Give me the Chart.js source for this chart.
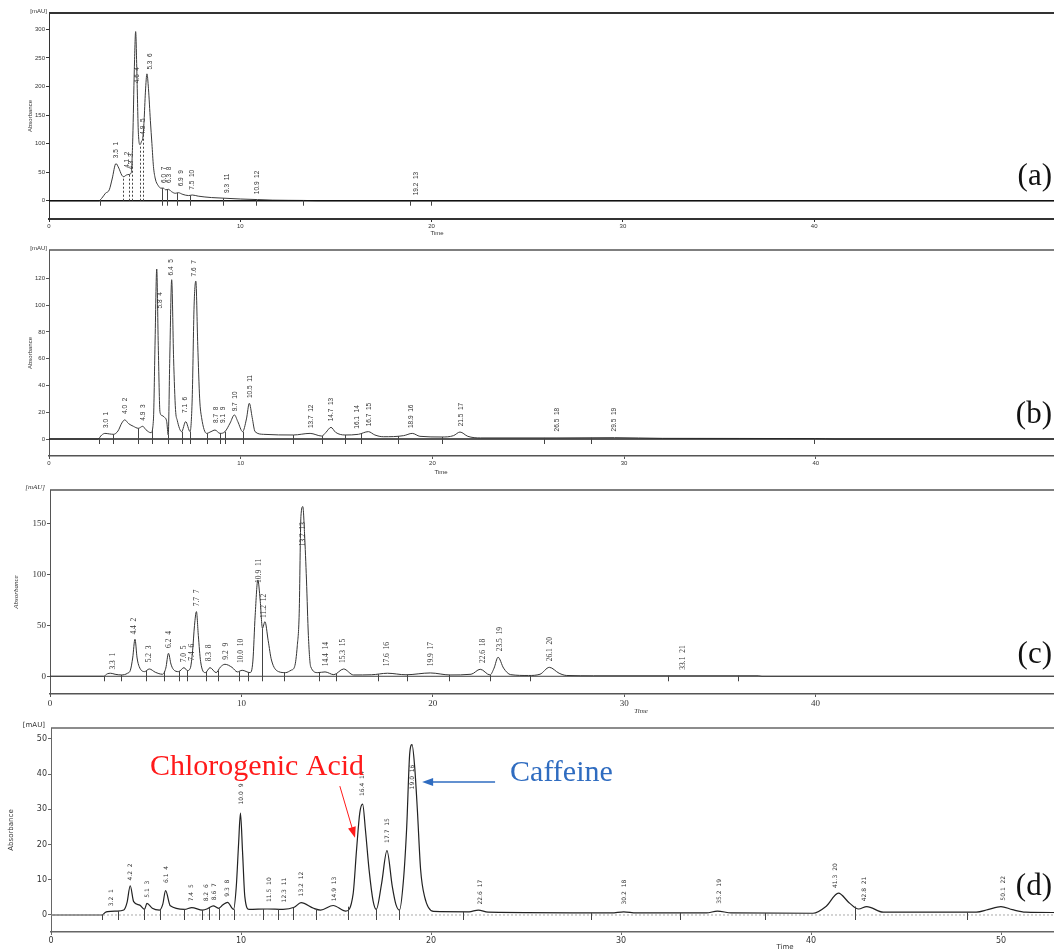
<!DOCTYPE html>
<html>
<head>
<meta charset="utf-8">
<title>HPLC chromatograms</title>
<script src="https://cdn.jsdelivr.net/npm/chart.js@4.4.1/dist/chart.umd.min.js"></script>
<style>
  body { margin: 0; background: #fff; width: 1054px; height: 950px; overflow: hidden; position: relative; }
  .panel { position: absolute; left: 0; width: 1060px; }
</style>
</head>
<body>
<div class="panel" style="top:0;height:240px"><canvas id="chart-a"></canvas></div>
<div class="panel" style="top:240px;height:236px"><canvas id="chart-b"></canvas></div>
<div class="panel" style="top:476px;height:238px"><canvas id="chart-c"></canvas></div>
<div class="panel" style="top:714px;height:236px"><canvas id="chart-d"></canvas></div>
<script>
// ---- panel (a) ----
const aTime = [0, 2.6, 2.75, 2.95, 3.15, 3.3, 3.5, 3.65, 3.8, 3.9, 4.05, 4.18, 4.3, 4.38, 4.46, 4.53, 4.6, 4.67, 4.76, 4.84, 4.9, 4.97, 5.04, 5.12, 5.2, 5.3, 5.38, 5.46, 5.56, 5.7, 5.85, 5.98, 6.1, 6.24, 6.4, 6.6, 6.76, 7.0, 7.3, 7.49, 7.8, 8.5, 9.1, 10, 10.9, 11.7, 13.3, 14, 53];
const aAbs  = [0, 0, 4, 13, 19, 38, 65, 57, 45, 42, 45, 46, 49, 110, 230, 296, 215, 120, 98, 104, 109, 140, 190, 222, 196, 140, 100, 60, 38, 27, 22, 22, 19, 20, 16, 13, 14, 11, 9, 10, 8, 5.5, 4.5, 3, 2, 1, 0.5, 0, 0];
const aPeakRT = [3.5, 4.1, 4.3, 4.6, 4.9, 5.3, 6.0, 6.3, 6.9, 7.5, 9.3, 10.9, 19.2];
const aLabelLevel = [71, 54, 51, 202, 112, 226, 27.5, 27.5, 21.7, 15.8, 10, 8, 6];
const aMarks = [2.67, 5.89, 6.18, 6.71, 7.37, 9.11, 10.8, 13.3, 18.86, 19.95];
const aDrops = [3.88, 4.2, 4.32, 4.76, 4.93];
const aYTicks = [0, 50, 100, 150, 200, 250, 300];
const aXTicks = [0, 10, 20, 30, 40];

// ---- panel (b) ----
const bTime = [0, 2.55, 2.75, 2.92, 3.15, 3.36, 3.6, 3.8, 3.95, 4.15, 4.4, 4.66, 4.89, 5.05, 5.32, 5.45, 5.53, 5.62, 5.7, 5.79, 5.9, 6.0, 6.14, 6.22, 6.3, 6.4, 6.5, 6.6, 6.69, 6.92, 7.13, 7.36, 7.47, 7.57, 7.66, 7.76, 7.86, 7.96, 8.22, 8.45, 8.66, 8.92, 9.18, 9.45, 9.67, 9.85, 10.1, 10.3, 10.45, 10.6, 10.75, 11.18, 12.75, 13.62, 14.23, 14.45, 14.71, 14.95, 15.44, 16.14, 16.66, 17.0, 17.44, 18.5, 18.95, 19.35, 20.5, 21.1, 21.44, 21.85, 22.5, 26.5, 29.5, 32, 40, 41, 53];
const bAbs  = [0, 0, 3, 4.2, 3.8, 3.5, 6, 12, 14.3, 11.5, 9.5, 8, 9.5, 7, 4.7, 15, 70, 127, 70, 20, 17.5, 16.5, 13, 3, 60, 119, 60, 22, 14, 5.5, 13, 5.5, 30, 100, 118, 70, 30, 16, 4.2, 5.5, 6.7, 4.2, 5.5, 12, 18, 13, 5.5, 15, 26.7, 16, 5.5, 3.5, 3, 4.2, 2.2, 5, 8.7, 5, 3, 3.5, 5.5, 3, 1.7, 2.5, 4.2, 2, 1.5, 2.5, 5.2, 2, 0.8, 0.8, 1, 0.5, 0.3, 0, 0];
const bPeakRT = [3.0, 4.0, 4.9, 5.8, 6.4, 7.1, 7.6, 8.7, 9.1, 9.7, 10.5, 13.7, 14.7, 16.1, 16.7, 18.9, 21.5, 26.5, 29.5];
const bLabelLevel = [6.7, 17.2, 12.2, 96, 120.7, 17.9, 120, 10.5, 10.5, 19.2, 29.1, 6.7, 11.7, 6.2, 8, 6.7, 8, 4.2, 4.2];
const bMarks = [2.6, 3.36, 4.66, 5.36, 6.22, 6.92, 7.36, 8.24, 8.92, 9.18, 10.1, 12.75, 14.23, 15.44, 16.3, 18.2, 20.5, 25.8, 28.3, 39.9];
const bYTicks = [0, 20, 40, 60, 80, 100, 120];
const bXTicks = [0, 10, 20, 30, 40];

// ---- panel (c) ----
const cTime = [0, 2.8, 3.0, 3.17, 3.4, 3.73, 4.05, 4.2, 4.32, 4.44, 4.55, 4.66, 4.94, 5.19, 5.5, 5.88, 6.05, 6.19, 6.32, 6.44, 6.72, 7.0, 7.18, 7.33, 7.45, 7.55, 7.65, 7.75, 7.87, 8.12, 8.36, 8.68, 8.9, 9.14, 9.51, 9.79, 10.04, 10.45, 10.6, 10.72, 10.86, 10.98, 11.1, 11.23, 11.4, 11.57, 11.94, 12.31, 12.6, 12.78, 12.92, 13.02, 13.11, 13.21, 13.3, 13.4, 13.5, 13.62, 13.99, 14.37, 14.83, 15.34, 15.86, 16.8, 17.63, 18.6, 19.87, 20.9, 22.0, 22.48, 22.99, 23.2, 23.41, 23.7, 24.07, 25.0, 25.6, 26.09, 26.6, 27.0, 28.4, 37.0, 37.2, 53];
const cAbs  = [0, 0, 2.5, 3, 2, 1.3, 3, 6, 18, 36.4, 18, 9.5, 4.6, 7.2, 4, 2, 8, 22.6, 12, 6.9, 4.6, 8.5, 5.6, 7.9, 25, 50, 63.6, 40, 14.4, 3.6, 8.5, 3.6, 9, 11.8, 8.8, 4.3, 5.9, 3.6, 15, 60, 94.7, 75, 47.2, 53.7, 35, 16, 4.6, 3.6, 6, 9.5, 30, 62, 157, 166.8, 140, 94.7, 40, 9.5, 3.6, 4.3, 1.6, 7.2, 1.3, 1.5, 3, 1.5, 3.3, 1.3, 2, 6.9, 1.3, 8, 18.7, 8, 1.6, 0.8, 2, 8.8, 3, 0.8, 0.5, 0.5, 0, 0];
const cPeakRT = [3.3, 4.4, 5.2, 6.2, 7.0, 7.4, 7.7, 8.3, 9.2, 10.0, 10.9, 11.2, 13.2, 14.4, 15.3, 17.6, 19.9, 22.6, 23.5, 26.1, 33.1];
const cLabelLevel = [4.6, 39, 11.8, 25.9, 11.8, 13.4, 66.8, 12.8, 14.4, 11.1, 89.8, 55.4, 125.8, 7.9, 11.1, 7.9, 7.9, 11.1, 22.6, 12.8, 4.5];
const cMarks = [2.8, 3.69, 5.0, 5.97, 6.75, 7.18, 8.17, 8.77, 9.85, 10.35, 11.1, 12.22, 14.08, 14.93, 17.13, 18.66, 20.85, 22.99, 25.06, 32.3, 35.95];
const cYTicks = [0, 50, 100, 150];
const cXTicks = [0, 10, 20, 30, 40];

// ---- panel (d) ----
const dTime = [0, 2.7, 2.85, 2.98, 3.45, 3.83, 4.0, 4.17, 4.35, 4.67, 4.92, 5.05, 5.33, 5.71, 5.88, 6.03, 6.28, 7.03, 7.41, 7.97, 8.25, 8.54, 8.82, 9.05, 9.29, 9.61, 9.75, 9.87, 9.97, 10.08, 10.2, 10.42, 11.37, 12.21, 12.8, 13.16, 13.82, 14.19, 14.85, 15.51, 15.9, 16.08, 16.25, 16.4, 16.55, 16.74, 16.95, 17.12, 17.4, 17.68, 17.96, 18.15, 18.34, 18.55, 18.72, 18.88, 19.0, 19.14, 19.28, 19.45, 19.66, 20.13, 22.0, 22.49, 23.0, 29.5, 30.14, 30.8, 34.5, 35.07, 35.8, 40.1, 40.8, 41.44, 42.0, 42.5, 42.93, 43.8, 48.7, 49.3, 49.99, 50.6, 51.3, 53];
const dAbs  = [0, 0, 0.7, 0.95, 1.1, 1.4, 3.5, 8.3, 3.8, 2.8, 1.6, 3.3, 1.9, 1.4, 3, 6.9, 2.6, 1.6, 2.1, 1.4, 1.8, 2.6, 1.9, 2.9, 3.6, 1.6, 8, 20, 28.9, 18, 5.2, 1.6, 1.7, 1.6, 2.2, 3.5, 1.9, 1.4, 2.7, 1.1, 6, 18.5, 29, 31.5, 24, 12.8, 4, 1.6, 9, 18.3, 8.1, 3, 1.4, 10, 25, 46, 48.4, 42, 29.9, 13, 5.2, 1.0, 0.9, 1.4, 0.8, 0.6, 0.9, 0.6, 0.6, 1.1, 0.6, 0.5, 2.5, 6.2, 3.5, 1.7, 2.4, 0.8, 0.8, 1.5, 2.4, 1.5, 0.8, 0.7];
const dPeakRT = [3.2, 4.2, 5.1, 6.1, 7.4, 8.2, 8.6, 9.3, 10.0, 11.5, 12.3, 13.2, 14.9, 16.4, 17.7, 19.0, 22.6, 30.2, 35.2, 41.3, 42.8, 50.1];
const dLabelLevel = [1.9, 9.2, 4.3, 8.5, 3.3, 3.3, 3.6, 4.6, 30.8, 3.1, 3, 4.7, 3.3, 33.2, 19.9, 35.1, 2.4, 2.4, 2.6, 7.1, 3.3, 3.5];
const dMarks = [2.7, 3.5, 4.92, 5.71, 7.0, 7.94, 8.31, 8.82, 9.61, 11.18, 11.97, 12.72, 13.97, 15.61, 17.12, 18.34, 21.7, 28.4, 33.1, 37.6, 42.3, 48.2];
const dYTicks = [0, 10, 20, 30, 40, 50];
const dXTicks = [0, 10, 20, 30, 40, 50];
const dNotes = ['Chlorogenic Acid', 'Caffeine'];

function traceAt(ts, vs, t) {
  for (let i = 1; i < ts.length; i++) {
    if (t <= ts[i]) {
      const f = (t - ts[i - 1]) / (ts[i] - ts[i - 1]);
      return vs[i - 1] + f * (vs[i] - vs[i - 1]);
    }
  }
  return 0;
}

function decor(p) {
  return {
    id: 'decor' + p.letter,
    afterDatasetsDraw(chart) {
      const { ctx, chartArea: ca, scales: { x, y } } = chart;
      const y0 = y.getPixelForValue(0);
      const seg = (x1, y1, x2, y2) => { ctx.beginPath(); ctx.moveTo(x1, y1); ctx.lineTo(x2, y2); ctx.stroke(); };
      ctx.save();
      // top frame + zero line
      ctx.strokeStyle = p.frameColor; ctx.lineWidth = p.frameWidth;
      seg(ca.left, ca.top, ca.right, ca.top);
      ctx.strokeStyle = p.baseColor; ctx.lineWidth = p.baseWidth; ctx.setLineDash(p.baseDash);
      seg(ca.left, y0, ca.right, y0);
      ctx.setLineDash([]);
      // integration marks
      ctx.strokeStyle = '#444'; ctx.lineWidth = 1;
      p.marks.forEach(t => {
        const px = Math.round(x.getPixelForValue(t)) + 0.5;
        seg(px, y0 + 5, px, Math.min(y0, y.getPixelForValue(traceAt(p.time, p.abs, t))));
      });
      ctx.setLineDash([2, 2]);
      (p.drops || []).forEach(t => {
        const px = Math.round(x.getPixelForValue(t)) + 0.5;
        seg(px, y0, px, y.getPixelForValue(traceAt(p.time, p.abs, t)));
      });
      ctx.setLineDash([]);
      // peak labels
      ctx.fillStyle = '#333'; ctx.font = p.labelFont;
      ctx.textAlign = 'left'; ctx.textBaseline = 'middle';
      p.peakRT.forEach((rt, i) => {
        ctx.save();
        ctx.translate(x.getPixelForValue(rt), y.getPixelForValue(p.labelLevel[i]) - 2);
        ctx.rotate(-Math.PI / 2);
        ctx.fillText(rt.toFixed(1) + '  ' + (i + 1), 0, 0);
        ctx.restore();
      });
      // axis texts
      ctx.font = p.axisFont;
      ctx.textAlign = 'right'; ctx.textBaseline = 'bottom';
      ctx.fillText('[mAU]', ca.left - p.unitGap, ca.top + 1);
      ctx.save();
      ctx.translate(ca.left - p.absGap, (ca.top + ca.bottom) / 2);
      ctx.rotate(-Math.PI / 2);
      ctx.textAlign = 'center'; ctx.textBaseline = 'middle';
      ctx.fillText('Absorbance', 0, 0);
      ctx.restore();
      ctx.textAlign = 'center'; ctx.textBaseline = 'middle';
      ctx.fillText('Time', p.timeX, ca.bottom + p.timeDY);
      // panel letter
      ctx.fillStyle = '#111'; ctx.font = '31px "Liberation Serif"';
      ctx.textAlign = 'right'; ctx.textBaseline = 'alphabetic';
      ctx.fillText('(' + p.letter + ')', 1052, y0 - p.letterLift);
      // annotations
      (p.notes || []).forEach(n => {
        ctx.fillStyle = n.color; ctx.strokeStyle = n.color; ctx.lineWidth = n.width;
        ctx.font = '30px "Liberation Serif"'; ctx.textAlign = 'left'; ctx.textBaseline = 'alphabetic';
        ctx.fillText(n.text, x.getPixelForValue(n.tx), y.getPixelForValue(n.ty));
        const x1 = x.getPixelForValue(n.a[0]), y1 = y.getPixelForValue(n.a[1]);
        const x2 = x.getPixelForValue(n.a[2]), y2 = y.getPixelForValue(n.a[3]);
        const ang = Math.atan2(y2 - y1, x2 - x1);
        seg(x1, y1, x2 - 8 * Math.cos(ang), y2 - 8 * Math.sin(ang));
        ctx.beginPath();
        ctx.moveTo(x2, y2);
        ctx.lineTo(x2 - 11 * Math.cos(ang) + 4 * Math.sin(ang), y2 - 11 * Math.sin(ang) - 4 * Math.cos(ang));
        ctx.lineTo(x2 - 11 * Math.cos(ang) - 4 * Math.sin(ang), y2 - 11 * Math.sin(ang) + 4 * Math.cos(ang));
        ctx.closePath(); ctx.fill();
      });
      ctx.restore();
    }
  };
}

function drawChrom(canvasId, p) {
  const pts = p.time.map((t, i) => ({ x: t, y: p.abs[i] }));
  return new Chart(document.getElementById(canvasId), {
    type: 'line',
    data: { datasets: [{ data: pts, borderColor: p.lineColor, borderWidth: p.lineWidth, pointRadius: 0, cubicInterpolationMode: 'monotone', fill: false }] },
    options: {
      responsive: true, maintainAspectRatio: false, animation: false,
      layout: { padding: { top: p.padTop, left: 0, right: 0, bottom: 0 } },
      plugins: { legend: { display: false }, tooltip: { enabled: false } },
      scales: {
        x: {
          type: 'linear', min: 0, max: p.xMax,
          afterBuildTicks: s => { s.ticks = p.xTicks.map(v => ({ value: v })); },
          afterFit: s => { s.height = p.xAxisH; },
          grid: { drawOnChartArea: false, tickLength: 3, color: p.frameColor },
          border: { color: p.frameColor, width: p.frameWidth },
          ticks: { font: p.tickFont, color: '#333', padding: 1, maxRotation: 0, autoSkip: false }
        },
        y: {
          min: p.yMin, max: p.yMax,
          afterBuildTicks: s => { s.ticks = p.yTicks.map(v => ({ value: v })); },
          afterFit: s => { s.width = p.yAxisW; },
          grid: { drawOnChartArea: false, tickLength: 3, color: p.frameColor },
          border: { color: p.frameColor, width: 1 },
          ticks: { font: p.tickFont, color: '#333', padding: 1 }
        }
      }
    },
    plugins: [decor(p)]
  });
}

drawChrom('chart-a', {
  letter: 'a', time: aTime, abs: aAbs, peakRT: aPeakRT, labelLevel: aLabelLevel, marks: aMarks, drops: aDrops,
  xTicks: aXTicks, yTicks: aYTicks, xMax: 52.85, yMin: -32, yMax: 328.5,
  padTop: 13, yAxisW: 49, xAxisH: 21,
  lineColor: '#3a3a3a', lineWidth: 1, frameColor: '#333', frameWidth: 2,
  baseColor: '#111', baseWidth: 1.5, baseDash: [],
  tickFont: { family: 'Liberation Sans', size: 6 }, labelFont: '6.5px "Liberation Sans"', axisFont: '6px "Liberation Sans"',
  unitGap: 2, absGap: 19, timeX: 437, timeDY: 14, letterLift: 16
});

drawChrom('chart-b', {
  letter: 'b', time: bTime, abs: bAbs, peakRT: bPeakRT, labelLevel: bLabelLevel, marks: bMarks,
  xTicks: bXTicks, yTicks: bYTicks, xMax: 52.74, yMin: -12.7, yMax: 141.2,
  padTop: 10, yAxisW: 49, xAxisH: 20,
  lineColor: '#3a3a3a', lineWidth: 1, frameColor: '#555', frameWidth: 1.5,
  baseColor: '#222', baseWidth: 1.3, baseDash: [],
  tickFont: { family: 'Liberation Sans', size: 6 }, labelFont: '6.5px "Liberation Sans"', axisFont: '6px "Liberation Sans"',
  unitGap: 2, absGap: 19, timeX: 441, timeDY: 16, letterLift: 16
});

drawChrom('chart-c', {
  letter: 'c', time: cTime, abs: cAbs, peakRT: cPeakRT, labelLevel: cLabelLevel, marks: cMarks,
  xTicks: cXTicks, yTicks: cYTicks, xMax: 52.77, yMin: -17.4, yMax: 183.1,
  padTop: 14, yAxisW: 50, xAxisH: 20,
  lineColor: '#333', lineWidth: 1, frameColor: '#555', frameWidth: 1.5,
  baseColor: '#444', baseWidth: 1, baseDash: [],
  tickFont: { family: 'Liberation Serif', size: 9 }, labelFont: '7.5px "Liberation Serif"', axisFont: 'italic 7px "Liberation Serif"',
  unitGap: 5, absGap: 34, timeX: 641, timeDY: 17, letterLift: 13
});

drawChrom('chart-d', {
  letter: 'd', time: dTime, abs: dAbs, peakRT: dPeakRT, labelLevel: dLabelLevel, marks: dMarks,
  xTicks: dXTicks, yTicks: dYTicks, xMax: 53.1, yMin: -4.83, yMax: 53.1,
  padTop: 14, yAxisW: 51, xAxisH: 18,
  lineColor: '#222', lineWidth: 1.2, frameColor: '#666', frameWidth: 1.5,
  baseColor: '#aaa', baseWidth: 1, baseDash: [2, 2],
  tickFont: { family: 'DejaVu Sans', size: 8 }, labelFont: '6px "DejaVu Sans"', axisFont: '7px "DejaVu Sans"',
  unitGap: 6, absGap: 40, timeX: 785, timeDY: 15, letterLift: 20,
  notes: [
    { text: dNotes[0], color: '#ff1a1a', width: 1, tx: 5.21, ty: 39.8, a: [15.2, 36.6, 16.0, 21.9] },
    { text: dNotes[1], color: '#2f6cc0', width: 1.5, tx: 24.16, ty: 38.1, a: [23.37, 37.8, 19.53, 37.8] }
  ]
});
</script>
</body>
</html>
